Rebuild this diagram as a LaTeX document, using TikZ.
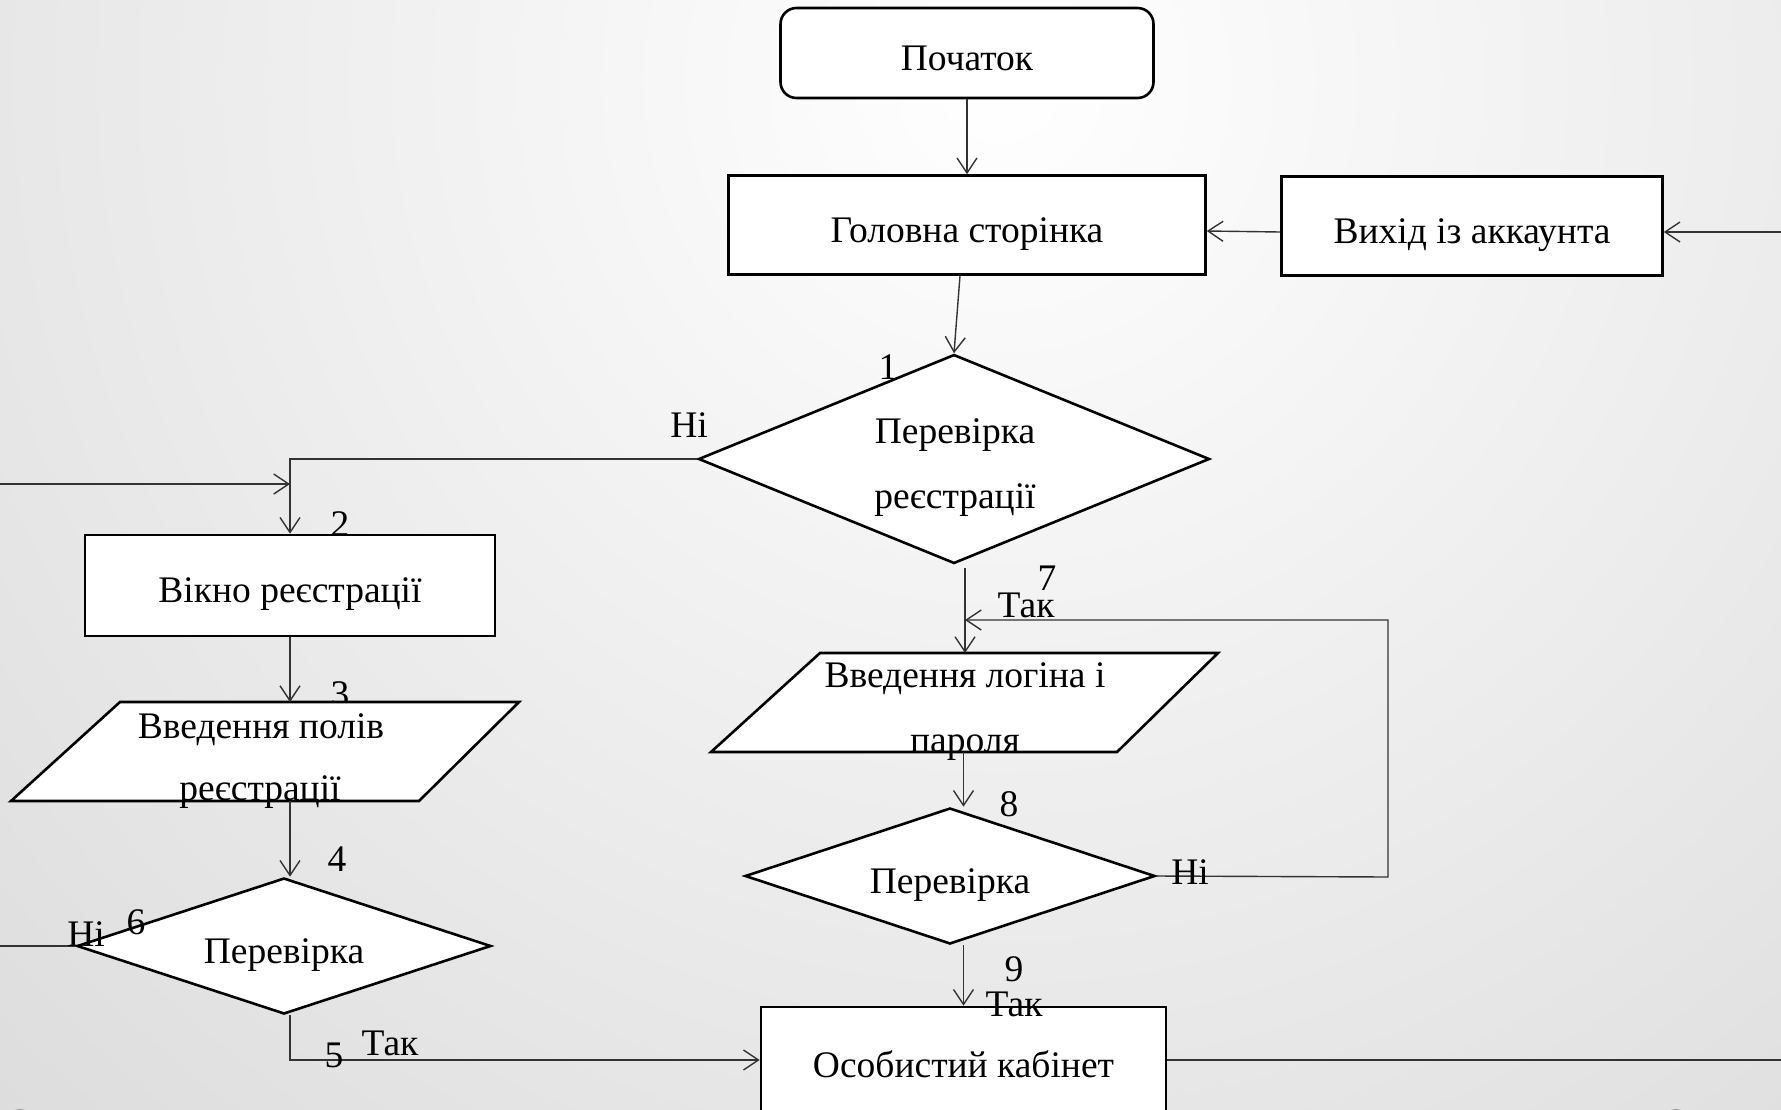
\documentclass[tikz,border=0pt]{standalone}
\usepackage{fontspec}
\setmainfont{Liberation Serif}
\usetikzlibrary{arrows.meta, shapes.geometric, calc}

\tikzset{
  blk/.style={draw=black, line width=2.6pt, fill=white, inner sep=0pt, line join=miter},
  boxnode/.style={blk, rectangle, text height=34pt, text depth=0pt},
  check/.style={blk, diamond, aspect=2.5, text height=34pt, text depth=0pt},
  conn/.style={line width=1.4pt, draw=black!80},
  arr/.style={conn, -{Straight Barb[length=15pt,width=20pt,line width=1.4pt]}},
  lbl/.style={inner sep=0pt},
  line/.style={inner sep=0pt, anchor=base},
}

\begin{document}
\begin{tikzpicture}[x=1pt, y=-1pt, font=\fontsize{37.5}{45}\selectfont]
\useasboundingbox (0,0) rectangle (1781,1109);
\clip (0,0) rectangle (1781,1109);
\shade[inner color=white, outer color=black!14] (1000,80) circle (1500);
\fill[black!45] (20,1121) circle (12);
\fill[black!45] (1676,1121) circle (12);

\coordinate (lEdge) at (0,484);
\coordinate (rEdge) at (1781,0);

% labels under the blocks
\node[lbl] (n2) at (340,524) {2};
\node[lbl] (n3) at (340,694) {3};

% blocks
\node[boxnode, rounded corners=16pt, minimum width=373pt, minimum height=90pt] (start) at (967,53) {Початок};
\node[boxnode, minimum width=477pt, minimum height=99pt] (glav) at (967,225) {Головна сторінка};
\node[boxnode, minimum width=381pt, minimum height=99pt] (vyhid) at (1472,226) {Вихід із аккаунта};
\node[check, minimum width=511pt, minimum height=209pt] (chk1) at (954,459) {};
\node[line] (chk1a) at (955,443) {Перевірка};
\node[line] (chk1b) at (955,508) {реєстрації};
\node[boxnode, minimum width=410pt, minimum height=101pt] (reg) at (290,585.5) {Вікно реєстрації};

\draw[blk] (120,702) coordinate (p1n) -- (519,702) -- (419,801) -- (11,801) coordinate (p1s) -- cycle;
\node[line] (polea) at (261,738) {Введення полів};
\node[line] (poleb) at (260,800) {реєстрації};
\node[check, minimum width=414pt, minimum height=136pt] (chk4) at (284,946) {Перевірка};

\draw[blk] (820,653) coordinate (p2n) -- (1218,653) -- (1117,752) -- (711,752) coordinate (p2s) -- cycle;
\node[line] (logina) at (965,687) {Введення логіна і};
\node[line] (loginb) at (965,752) {пароля};
\node[check, minimum width=410pt, minimum height=136pt] (chk8) at (950,876) {Перевірка};
\node[boxnode, minimum width=405pt, minimum height=106pt] (osob) at (963.5,1060) {Особистий кабінет};

% connectors
\draw[arr] (start.south) -- (glav.north);
\draw[arr] ($(vyhid.west)+(0,6)$) -- ($(glav.east)+(0,6)$);
\draw[arr] ($(vyhid.east -| rEdge)+(0,6)$) -- ($(vyhid.east)+(0,6)$);
\draw[arr] ($(glav.south)+(-7,0)$) -- (chk1.north);

\draw[arr] (chk1.west) -| (reg.north);
\draw[arr] (lEdge) -- (lEdge -| reg.north);
\draw[arr] (reg.south) -- (reg.south |- p1n);
\draw[arr] (reg.south |- p1s) -- (reg.south |- chk4.north);
\draw[conn] (chk4.west) -- (chk4.west -| lEdge);
\draw[arr] (reg.south |- chk4.south) |- (osob.west);
\draw[conn] (osob.east) -- (osob.east -| rEdge);

\coordinate (c7) at (965,568);
\coordinate (tak7) at (965,620);
\coordinate (ret) at (1388,877);
\draw[arr] (c7) -- (c7 |- p2n);
\draw[arr] (chk8.east) -- (ret) |- (tak7);
\draw[arr] (osob.north |- p2s) -- (osob.north |- chk8.north);
\draw[arr] (osob.north |- chk8.south) -- (osob.north);

% labels
\node[lbl] (n1) at (888,367) {1};
\node[lbl] (ni1) at (689,425) {Ні};
\node[lbl] (n4) at (337,859) {4};
\node[lbl] (ni4) at (86,934) {Ні};
\node[lbl] (n6) at (136,922) {6};
\node[lbl] (n5) at (334,1055) {5};
\node[lbl] (tak5) at (390,1043) {Так};
\node[lbl] (n7) at (1047,578) {7};
\node[lbl] (tak7l) at (1026,605) {Так};
\node[lbl] (n8) at (1009,804) {8};
\node[lbl] (ni8) at (1190,872) {Ні};
\node[lbl] (n9) at (1014,969) {9};
\node[lbl] (tak9) at (1014,1004) {Так};
\end{tikzpicture}
\end{document}
